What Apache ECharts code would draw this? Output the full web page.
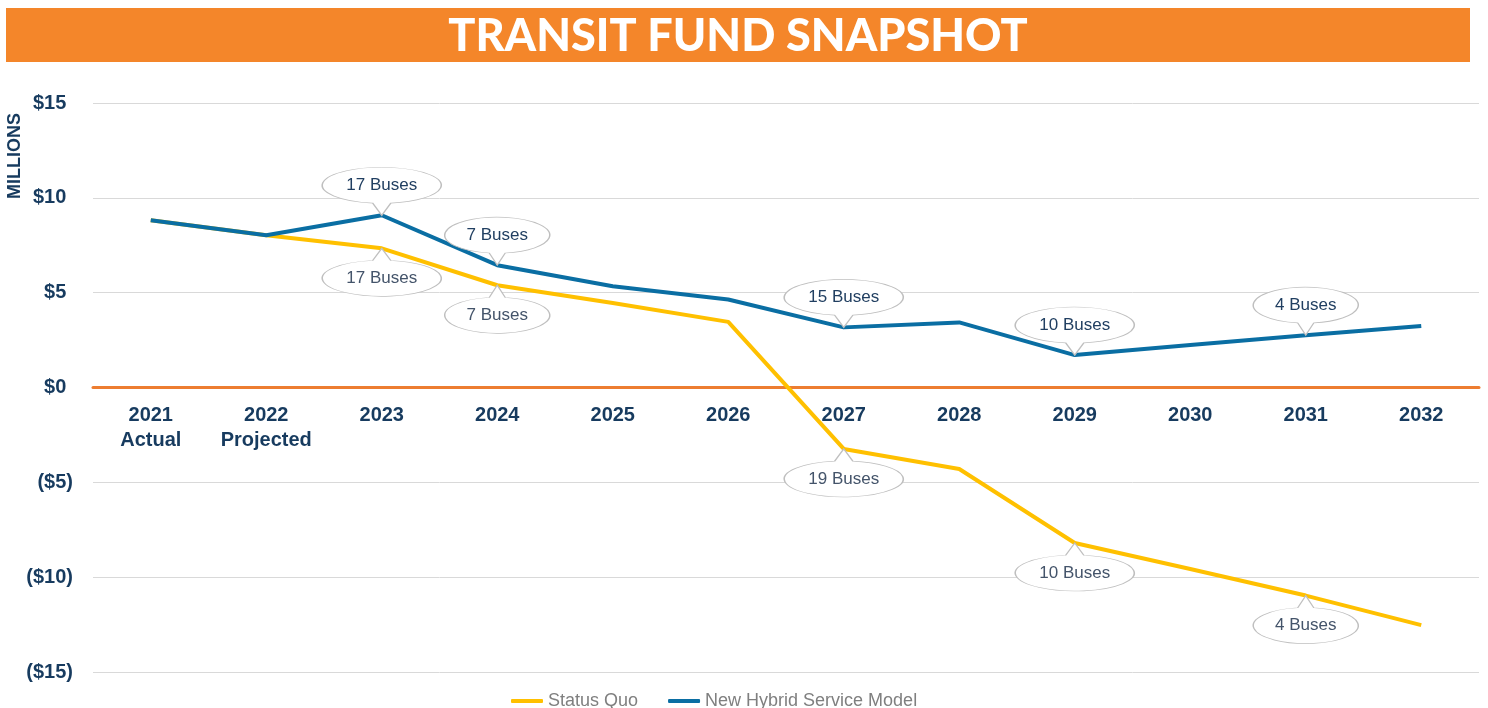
<!DOCTYPE html>
<html>
<head>
<meta charset="utf-8">
<script src="https://cdn.jsdelivr.net/npm/echarts@6/dist/echarts.min.js"></script>
<style>
  html, body { margin: 0; padding: 0; background: #fff; }
  #main { width: 1488px; height: 708px; }
</style>
</head>
<body>
<div id="main"></div>
<script>
// data ($ millions)
const years = ['2021\nActual', '2022\nProjected', '2023', '2024', '2025', '2026', '2027', '2028', '2029', '2030', '2031', '2032']
const statusQuo = [8.82, 8.03, 7.34, 5.39, 4.45, 3.46, -3.24, -4.3, -8.2, -9.57, -10.97, -12.53]
const hybrid = [8.82, 8.03, 9.08, 6.45, 5.34, 4.64, 3.17, 3.43, 1.71, 2.24, 2.76, 3.24]
// bus purchases shown in the callouts
const statusQuoBuses = [null, null, 17, 7, null, null, 19, null, 10, null, 4, null]
const hybridBuses = [null, null, 17, 7, null, null, 15, null, 10, null, 4, null]
const yTicks = [-15, -10, -5, 0, 5, 10, 15]

const navy = '#173b5f'
const calloutUp = 'path://M51 35.8A59 18 0 1 1 69 35.8L60 48Z'
const calloutDown = 'path://M51 12.2A59 18 0 1 0 69 12.2L60 0Z'

function callouts (buses, values, above) {
  let out = []
  buses.forEach((n, i) => {
    if (n === null) return
    let text = n + ' Buses'
    out.push({
      name: text,
      coord: [i, values[i]],
      symbol: above ? calloutUp : calloutDown,
      symbolSize: [n >= 10 ? 119 : 105, 48],
      symbolOffset: [0, above ? -24 : 24],
      label: { offset: [0, above ? -6 : 6] }
    })
  })
  return out
}

let myChart = echarts.init(document.getElementById('main'))
let gridTop = 103
let gridBottom = 36
// the zero line sits half way down the symmetric value axis
let zeroShift = (708 - gridTop - gridBottom) / 2

let option = {
  animation: false,
  graphic: [
    {
      type: 'rect',
      shape: { x: 6, y: 8, width: 1464, height: 54 },
      style: { fill: '#f4862a' },
      z: 0
    },
    {
      type: 'text',
      x: 738,
      y: 36,
      style: {
        text: 'TRANSIT FUND SNAPSHOT',
        fill: '#fff',
        font: '900 45px Lato',
        align: 'center',
        verticalAlign: 'middle'
      },
      z: 1
    },
    {
      type: 'text',
      x: 15,
      y: 156,
      rotation: Math.PI / 2,
      style: {
        text: 'MILLIONS',
        fill: navy,
        font: 'bold 18px "Liberation Sans"',
        align: 'center',
        verticalAlign: 'middle'
      }
    }
  ],
  grid: {
    left: 93,
    right: 9,
    top: gridTop,
    bottom: gridBottom,
    outerBoundsMode: 'none'
  },
  legend: {
    top: 692,
    left: 511,
    padding: 0,
    icon: 'roundRect',
    itemWidth: 32,
    itemHeight: 4,
    itemGap: 30,
    textStyle: { color: '#7f7f7f', fontSize: 18, fontFamily: 'Liberation Sans' },
    data: ['Status Quo', 'New Hybrid Service Model']
  },
  xAxis: {
    type: 'category',
    data: years,
    offset: -zeroShift,
    axisLine: { onZero: false, lineStyle: { color: '#ed7d31', width: 3 } },
    axisTick: { show: false },
    axisLabel: {
      interval: 0,
      margin: 15,
      color: navy,
      fontSize: 20,
      fontWeight: 'bold',
      lineHeight: 25,
      fontFamily: 'Liberation Sans'
    }
  },
  yAxis: {
    type: 'value',
    min: yTicks[0],
    max: yTicks[yTicks.length - 1],
    interval: 5,
    axisLine: { show: false },
    axisTick: { show: false },
    splitLine: { lineStyle: { color: '#d9d9d9', width: 1 } },
    axisLabel: {
      margin: 20,
      color: navy,
      fontSize: 20,
      fontWeight: 'bold',
      fontFamily: 'Liberation Sans',
      formatter: v => (v < 0 ? '($' + (-v) + ')' : '$' + v + '{h|)}'),
      rich: { h: { color: 'rgba(0,0,0,0)', fontSize: 20, fontWeight: 'bold' } }
    }
  },
  series: [
    {
      name: 'Status Quo',
      type: 'line',
      data: statusQuo,
      symbol: 'none',
      color: '#ffc000',
      lineStyle: { width: 4, join: 'round' },
      emphasis: { disabled: true },
      markPoint: {
        silent: true,
        itemStyle: { color: '#fff', borderColor: '#bfbfbf', borderWidth: 1 },
        label: { show: true, position: 'inside', formatter: '{b}', color: '#44546a', fontSize: 17, fontFamily: 'Liberation Sans' },
        data: callouts(statusQuoBuses, statusQuo, false)
      }
    },
    {
      name: 'New Hybrid Service Model',
      type: 'line',
      data: hybrid,
      symbol: 'none',
      color: '#0a6ea3',
      lineStyle: { width: 4, join: 'round' },
      emphasis: { disabled: true },
      markPoint: {
        silent: true,
        itemStyle: { color: '#fff', borderColor: '#bfbfbf', borderWidth: 1 },
        label: { show: true, position: 'inside', formatter: '{b}', color: '#213f61', fontSize: 17, fontFamily: 'Liberation Sans' },
        data: callouts(hybridBuses, hybrid, true)
      }
    }
  ]
}
option && myChart.setOption(option)
</script>
</body>
</html>
